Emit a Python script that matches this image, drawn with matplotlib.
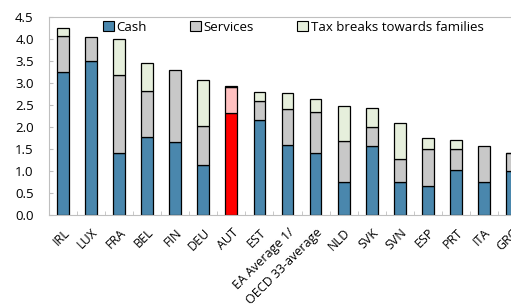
import numpy as np
import matplotlib.pyplot as plt
from matplotlib.patches import Patch

countries = ["IRL", "LUX", "FRA", "BEL", "FIN", "DEU", "AUT", "EST",
             "EA Average 1/", "OECD 33-average", "NLD", "SVK", "SVN",
             "ESP", "PRT", "ITA", "GRC"]
cash = [3.26, 3.51, 1.42, 1.77, 1.65, 1.14, 2.32, 2.16, 1.59, 1.40,
        0.76, 1.57, 0.75, 0.65, 1.02, 0.76, 1.00]
services = [0.81, 0.53, 1.77, 1.04, 1.64, 0.89, 0.59, 0.44, 0.81, 0.94,
            0.93, 0.44, 0.53, 0.85, 0.47, 0.81, 0.40]
tax = [0.17, 0.0, 0.80, 0.64, 0.0, 1.04, 0.03, 0.19, 0.38, 0.29,
       0.78, 0.42, 0.80, 0.25, 0.21, 0.0, 0.02]

plt.rcParams['font.family'] = ['Open Sans', 'DejaVu Sans']
plt.rcParams['font.size'] = 8.5

c_cash, c_serv, c_tax = "#4A87AD", "#C8C8C8", "#E6EFDC"
hl = countries.index("AUT")

fig = plt.figure(figsize=(5.11, 3.07), dpi=100)
ax = fig.add_axes([49/511, 92/307, 477/511, 198/307])

x = np.arange(len(countries))
cash = np.array(cash); services = np.array(services); tax = np.array(tax)
col_cash = [c_cash] * len(x); col_serv = [c_serv] * len(x); col_tax = [c_tax] * len(x)
col_cash[hl] = "#FF0000"; col_serv[hl] = "#FFC0C0"; col_tax[hl] = "#FFE0E0"

w = 0.42
kw = dict(width=w, edgecolor="black", linewidth=0.9)
ax.bar(x, cash, color=col_cash, **kw)
ax.bar(x, services, bottom=cash, color=col_serv, **kw)
mask = tax > 0
ax.bar(x[mask], tax[mask], bottom=(cash + services)[mask],
       color=np.array(col_tax)[mask], **kw)

ax.set_xlim(-0.5, len(x) - 0.5)
ax.set_ylim(0, 4.5)
ax.set_yticks(np.arange(0, 4.51, 0.5))
ax.set_yticklabels([f"{v:.1f}" for v in np.arange(0, 4.51, 0.5)], fontsize=9.5)
ax.set_xticks(x)
ax.set_xticklabels(countries, rotation=45, ha="right", rotation_mode="anchor", fontsize=9)
ax.tick_params(axis="x", length=0, pad=8)
ax.set_xticks(np.arange(-0.5, len(x), 1), minor=True)
ax.tick_params(axis="x", which="minor", direction="in", length=3, color="#BFBFBF")
ax.tick_params(axis="y", direction="in", length=3, color="#BFBFBF", pad=11)

for s in ["left", "bottom", "top"]:
    ax.spines[s].set_color("#BFBFBF")
ax.spines["right"].set_visible(False)

handles = [Patch(facecolor=c_cash, edgecolor="black", linewidth=0.8),
           Patch(facecolor=c_serv, edgecolor="black", linewidth=0.8),
           Patch(facecolor=c_tax, edgecolor="black", linewidth=0.8)]
fig.legend(handles, ["Cash", "Services", "Tax breaks towards families"],
           loc="upper left", bbox_to_anchor=(103/511, 1 - 21/307), ncol=3,
           frameon=False, handlelength=0.8, handleheight=0.8, handletextpad=0.2,
           columnspacing=3.3, fontsize=9.5, borderaxespad=0, borderpad=0)

fig.savefig("out.png", dpi=100)
